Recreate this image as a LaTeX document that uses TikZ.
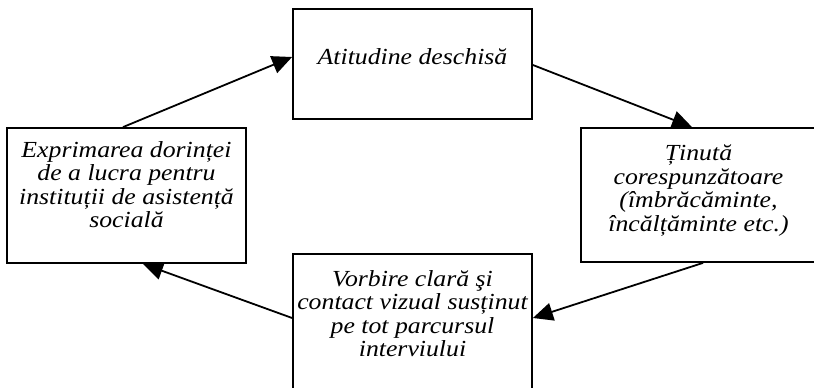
\documentclass[tikz,border=0pt]{standalone}
\usepackage{fontspec}
\setmainfont{Liberation Serif}[FakeStretch=1.12]
\usetikzlibrary{arrows.meta}
\begin{document}
\begin{tikzpicture}[x=1pt,y=-1pt,
  box/.style={draw,line width=1.8pt,inner sep=0pt,minimum width=239pt},
  txt/.style={font=\fontsize{23}{23.5}\selectfont\itshape,align=center,inner sep=0pt,anchor=north},
  arr/.style={line width=1.8pt,-{Triangle[length=20pt,width=18pt]}}]
\useasboundingbox (0,0) rectangle (814,388);
\node[box,minimum height=110pt] (T) at (412.5,64) {};
\node[box,minimum height=135pt] (L) at (126.5,195.5) {};
\node[box,minimum width=235pt,minimum height=134pt] (R) at (698.5,195) {};
\node[box,minimum height=140pt] (B) at (412.5,324) {};
\node[txt] (tT) at (412.5,48) {Atitudine deschisă};
\node[txt] (tL) at (126.5,141) {Exprimarea dorinței\\de a lucra pentru\\instituții de asistență\\socială};
\node[txt] (tR) at (698.5,145) {Ținută\\corespunzătoare\\(îmbrăcăminte,\\încălțăminte etc.)};
\node[txt] (tB) at (412.5,270) {Vorbire clară şi\\contact vizual susținut\\pe tot parcursul\\interviului};
\draw[arr] ([xshift=-3.5pt]L.north) -- ([yshift=7pt]T.west);
\draw[arr] ([yshift=-1pt]T.east) -- ([xshift=-6.5pt]R.north);
\draw[arr] ([xshift=4.5pt]R.south) -- ([yshift=6pt]B.east);
\draw[arr] ([yshift=6pt]B.west) -- ([xshift=16.5pt]L.south);
\end{tikzpicture}
\end{document}
